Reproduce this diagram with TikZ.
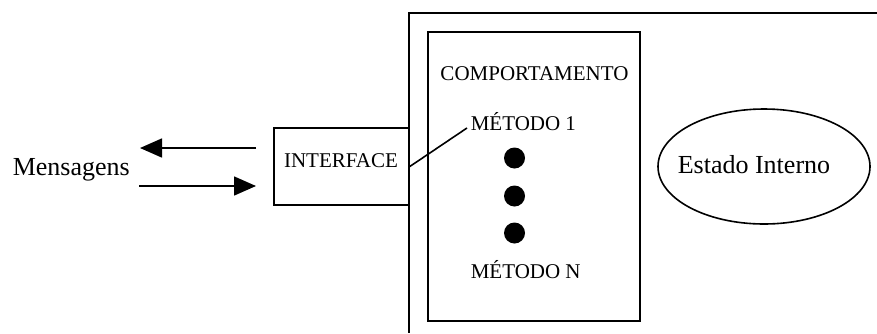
\documentclass[tikz,border=0pt]{standalone}
\usepackage{fontspec}
\setmainfont{Liberation Serif}
\usetikzlibrary{arrows.meta,shapes.geometric}
\begin{document}
\begin{tikzpicture}[x=1pt,y=-1pt,line width=1.6pt,
  box/.style={draw,rectangle,inner sep=0pt},
  big/.style={inner sep=0pt,anchor=base west,font=\fontsize{26}{30}\selectfont},
  small/.style={inner sep=0pt,font=\fontsize{21}{25}\selectfont},
  dotc/.style={fill,circle,inner sep=0pt,minimum size=21pt},
  msg/.style={-{Triangle[length=22pt,width=19pt]}}]
\useasboundingbox (0,0) rectangle (877,333);
% outer frame (clipped at the right and bottom)
\coordinate (otr) at (877,13);
\coordinate (otl) at (409,13);
\coordinate (obl) at (409,333);
\draw (otr) -- (otl) -- (obl);
% interface box
\node[box,minimum width=135pt,minimum height=77pt] (iface) at (341.5,166.5) {};
\node[small,anchor=base] (ifacetxt) at (341,167) {INTERFACE};
% behaviour box
\node[box,minimum width=212pt,minimum height=289pt] (comp) at (534,176.5) {};
\node[small,anchor=base] (comptxt) at (534.5,80) {COMPORTAMENTO};
\node[small,anchor=base west] (m1) at (470,130) {MÉTODO 1};
\node[small,anchor=base west] (mn) at (470,278) {MÉTODO N};
\node[dotc] (d1) at (514.5,158) {};
\node[dotc] (d2) at (514.5,196) {};
\node[dotc] (d3) at (514.5,233) {};
\draw (iface.east) -- ([xshift=-3pt,yshift=2pt]m1.base west);
% internal state
\node[draw,ellipse,inner sep=0pt,minimum width=212pt,minimum height=115pt] (state) at (764,166.5) {};
\node[big] (statetxt) at (677,173) {Estado Interno};
% messages
\node[big] (msgtxt) at (12,175) {Mensagens};
\coordinate (o1) at (256,148);
\coordinate (o2) at (140,148);
\coordinate (i1) at (139,186);
\coordinate (i2) at (256,186);
\draw[msg] (o1) -- (o2);
\draw[msg] (i1) -- (i2);
\end{tikzpicture}
\end{document}
